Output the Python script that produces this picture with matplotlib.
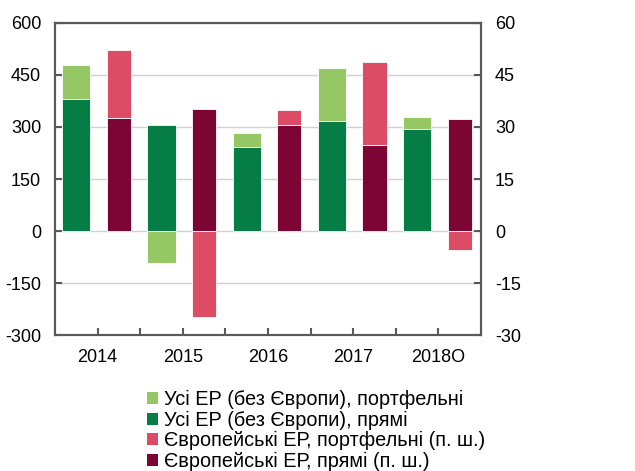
import numpy as np
import matplotlib.pyplot as plt
from matplotlib.patches import Patch

plt.rcParams['font.family'] = ['Liberation Sans', 'DejaVu Sans']
plt.rcParams['axes.unicode_minus'] = False

# Data.
years = ["2014", "2015", "2016", "2017", "2018О"]
em_direct = [382, 305, 241, 318, 293]
em_portfolio = [96, -91, 41, 152, 36]
eu_direct = [32.7, 35.1, 30.7, 24.7, 32.2]
eu_portfolio = [19.4, -24.8, 4.2, 24.0, -5.6]

labels = ["Усі ЕР (без Європи), портфельні",
          "Усі ЕР (без Європи), прямі",
          "Європейські ЕР, портфельні (п. ш.)",
          "Європейські ЕР, прямі (п. ш.)"]
colors = ["#95c865", "#077d46", "#dc4c64", "#7d0533"]

def stack_bottom(direct, portfolio):
    return [d if p >= 0 else 0 for d, p in zip(direct, portfolio)]

fig = plt.figure(figsize=(6.35, 4.71), dpi=100)
ax = fig.add_axes([0.0866, 0.2887, 0.671, 0.6625])
ax2 = ax.twinx()

n = len(years)
x_green = np.arange(n) * 2
x_red = x_green + 1

ax.bar(x_green, em_direct, width=0.66, color=colors[1], edgecolor="white", linewidth=0.6, zorder=3)
ax.bar(x_green, em_portfolio, width=0.66, bottom=stack_bottom(em_direct, em_portfolio),
       color=colors[0], edgecolor="white", linewidth=0.6, zorder=3)
ax2.bar(x_red, eu_direct, width=0.57, color=colors[3], edgecolor="white", linewidth=0.6, zorder=3)
ax2.bar(x_red, eu_portfolio, width=0.57, bottom=stack_bottom(eu_direct, eu_portfolio),
        color=colors[2], edgecolor="white", linewidth=0.6, zorder=3)

ax.set_xlim(-0.5, 2 * n - 0.5)
ax.set_ylim(-300, 600)
ax2.set_ylim(-30, 60)
ax.set_yticks(np.arange(-300, 601, 150))
ax2.set_yticks(np.arange(-30, 61, 15))
ax.grid(axis="y", color="#d0d0d0", linewidth=1.0, zorder=0)
ax.set_axisbelow(True)

ax.set_xticks(np.arange(0.5, 2 * n - 1, 1.0))
ax.set_xticklabels([years[i // 2] if i % 2 == 0 else "" for i in range(2 * n - 1)])

for a in (ax, ax2):
    for s in a.spines.values():
        s.set_color("#595959")
        s.set_linewidth(1.5)
    a.tick_params(direction="in", length=5, width=1.5, color="#595959", labelsize=13)
ax.tick_params(axis="y", pad=10)
ax2.tick_params(axis="y", pad=10)
ax.tick_params(axis="x", pad=10)

handles = [Patch(facecolor=c) for c in colors]
fig.legend(handles, labels, loc="upper left", bbox_to_anchor=(0.232, 0.172),
           frameon=False, fontsize=14.3, handlelength=0.55, handleheight=0.55,
           handletextpad=0.3, labelspacing=0.08, borderaxespad=0, borderpad=0)

fig.savefig("out.png", dpi=100)
